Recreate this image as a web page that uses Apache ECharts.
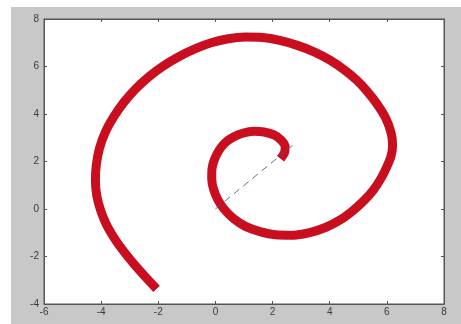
<!DOCTYPE html>
<html>
<head>
<meta charset="utf-8">
<script src="https://cdn.jsdelivr.net/npm/echarts@6/dist/echarts.min.js"></script>
<style>
  html, body { margin: 0; padding: 0; background: #fff; }
  #myChart { position: absolute; left: 11px; top: 7px; width: 450px; height: 317px; }
</style>
</head>
<body>
<div id="myChart"></div>
<script>
// spiral, from the inner end outwards
const spiralX = [2.28, 2.42, 2.44, 2.3, 2.05, 1.7, 1.35, 0.98, 0.63, 0.35, 0.13, -0.03, -0.12, -0.13, -0.07, 0.08, 0.3, 0.63, 1.05, 1.56, 2.1, 2.73, 3.3, 3.85, 4.38, 4.83, 5.22, 5.53, 5.8, 6.0, 6.15, 6.2, 6.15, 5.95, 5.64, 5.3, 4.94, 4.5, 4.01, 3.45, 2.84, 2.25, 1.65, 1.05, 0.45, -0.15, -0.7, -1.3, -1.85, -2.35, -2.8, -3.2, -3.55, -3.85, -4.06, -4.17, -4.2, -4.15, -4.02, -3.83, -3.57, -3.25, -2.87, -2.48, -2.06]
const spiralY = [2.12, 2.38, 2.62, 2.9, 3.12, 3.24, 3.27, 3.2, 3.03, 2.8, 2.48, 2.1, 1.7, 1.28, 0.85, 0.4, 0.0, -0.4, -0.73, -0.95, -1.08, -1.1, -0.99, -0.78, -0.45, -0.05, 0.38, 0.8, 1.3, 1.78, 2.25, 2.7, 3.2, 3.85, 4.45, 4.97, 5.43, 5.87, 6.27, 6.62, 6.9, 7.1, 7.22, 7.24, 7.17, 7.0, 6.75, 6.4, 6.0, 5.55, 5.05, 4.5, 3.9, 3.25, 2.55, 1.85, 1.2, 0.55, -0.05, -0.62, -1.17, -1.72, -2.29, -2.82, -3.36]
// dashed line
const dashX = [0, 2.7]
const dashY = [0, 2.68]

const xTicks = [-6, -4, -2, 0, 2, 4, 6, 8]
const yTicks = [-4, -2, 0, 2, 4, 6, 8]

const spiral = spiralX.map((x, i) => [x, spiralY[i]])
const dash = dashX.map((x, i) => [x, dashY[i]])

const myChart = echarts.init(document.getElementById('myChart'))

const labelStyle = {
  color: '#3a3a3a',
  fontSize: 10,
  fontFamily: 'Liberation Sans',
}
const lineStyle = { color: '#555', width: 1 }

const option = {
  backgroundColor: '#c8c8c8',
  animation: false,
  grid: {
    left: 33,
    top: 12,
    right: 17,
    bottom: 20,
    show: true,
    backgroundColor: '#fff',
    borderColor: '#555',
    borderWidth: 1,
  },
  xAxis: [
    {
      type: 'value',
      min: xTicks[0],
      max: xTicks[xTicks.length - 1],
      interval: 2,
      position: 'bottom',
      axisLine: { show: true, onZero: false, lineStyle },
      axisTick: { show: true, inside: true, length: 3, lineStyle },
      axisLabel: { ...labelStyle, margin: 3 },
      splitLine: { show: false },
    },
    {
      type: 'value',
      min: xTicks[0],
      max: xTicks[xTicks.length - 1],
      interval: 2,
      position: 'top',
      axisLine: { show: true, onZero: false, lineStyle },
      axisTick: { show: true, inside: true, length: 3, lineStyle },
      axisLabel: { show: false },
      splitLine: { show: false },
    },
  ],
  yAxis: [
    {
      type: 'value',
      min: yTicks[0],
      max: yTicks[yTicks.length - 1],
      interval: 2,
      position: 'left',
      axisLine: { show: true, onZero: false, lineStyle },
      axisTick: { show: true, inside: true, length: 3, lineStyle },
      axisLabel: { ...labelStyle, margin: 5 },
      splitLine: { show: false },
    },
    {
      type: 'value',
      min: yTicks[0],
      max: yTicks[yTicks.length - 1],
      interval: 2,
      position: 'right',
      axisLine: { show: true, onZero: false, lineStyle },
      axisTick: { show: true, inside: true, length: 3, lineStyle },
      axisLabel: { show: false },
      splitLine: { show: false },
    },
  ],
  series: [
    {
      name: 'spiral',
      type: 'line',
      data: spiral,
      smooth: 0.3,
      showSymbol: false,
      lineStyle: { color: '#c90e20', width: 9, cap: 'butt', join: 'round' },
      z: 2,
    },
    {
      name: 'dash',
      type: 'line',
      data: dash,
      showSymbol: false,
      lineStyle: { color: '#4b4f9e', width: 1, type: [7, 5], opacity: 0.85 },
      z: 3,
    },
  ],
}

myChart.setOption(option)
</script>
</body>
</html>
